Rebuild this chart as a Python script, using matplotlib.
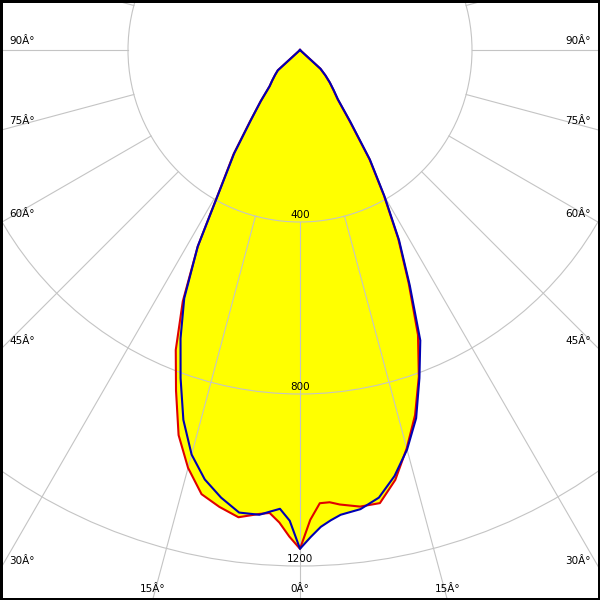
import numpy as np
import matplotlib
matplotlib.use("Agg")
import matplotlib.pyplot as plt
from matplotlib.patches import Circle

# photometric data, angle from nadir (deg) and intensity (cd)
angles = [0, 1.25, 2.5, 3.75, 5, 7.5, 10, 12.5, 15, 17.5, 20, 22.5, 25,
          27.5, 30, 32.5, 35, 37.5, 40, 42.5, 45, 47.5, 50]
red_left = [1160, 1132, 1100, 1079, 1083, 1096, 1079, 1058, 1006, 939, 843, 755, 645,
            515, 368, 288, 202, 150, 110, 95, 82, 70, 0]
red_right = [1160, 1093, 1055, 1054, 1061, 1071, 1070, 1024, 959, 890, 808, 717, 598,
             495, 390, 300, 200, 143, 120, 102, 83, 64, 0]
blue_left = [1160, 1095, 1068, 1076, 1085, 1085, 1057, 1023, 974, 902, 812, 726, 637,
             515, 366, 285, 200, 150, 110, 95, 82, 70, 0]
blue_right = [1160, 1133, 1110, 1096, 1085, 1077, 1057, 1015, 962, 898, 812, 731, 604,
              499, 393, 303, 205, 145, 122, 103, 84, 65, 0]

ring_values = [400, 800, 1200]
side_angles = [90, 75, 60, 45, 30]
bottom_angles = [-15, 0, 15]

S = 0.43          # pixels per cd
CY = 50           # pole distance from top edge, px
GRID = "#c4c4c4"


def curve_xy(left, right):
    a = np.radians(np.concatenate([-np.array(angles[::-1]), np.array(angles[1:])]))
    r = np.concatenate([np.array(left[::-1]), np.array(right[1:])])
    return r * np.sin(a), -r * np.cos(a)


fig = plt.figure(figsize=(6, 6), dpi=100)
ax = fig.add_axes([0, 0, 1, 1])
ax.set_xlim(-300 / S, 300 / S)
ax.set_ylim(-(600 - CY) / S, CY / S)
ax.set_xticks([])
ax.set_yticks([])
for sp in ax.spines.values():
    sp.set_linewidth(3.6)
    sp.set_color("black")

# yellow area (union of both planes)
for left, right in [(red_left, red_right), (blue_left, blue_right)]:
    x, y = curve_xy(left, right)
    ax.fill(x, y, color="#ffff00", lw=0, zorder=1)

# grid: rings and rays starting at the first ring
for rv in ring_values:
    ax.add_patch(Circle((0, 0), rv, fill=False, ec=GRID, lw=0.8, zorder=2))
for a in range(0, 360, 15):
    t = np.radians(a)
    ax.plot([400 * np.sin(t), 3000 * np.sin(t)], [-400 * np.cos(t), -3000 * np.cos(t)],
            color=GRID, lw=0.8, zorder=2)

# curves
x, y = curve_xy(red_left, red_right)
ax.plot(x, y, color="#e00000", lw=1.5, zorder=3)
x, y = curve_xy(blue_left, blue_right)
ax.plot(x, y, color="#0000b4", lw=1.5, zorder=3)

fs = 7.5
for rv in ring_values:
    ax.text(0, -rv + 2 / S, str(rv), ha="center", va="bottom", fontsize=fs, zorder=4)

half_w = 300 / S
for a in side_angles:
    if a == 90:
        ye = 0
    else:
        ye = -half_w / np.tan(np.radians(a))
    lab = f"{a}Â°"
    ax.text(-half_w + 9 / S, ye + 4 / S, lab, ha="left", va="bottom", fontsize=fs, zorder=4)
    ax.text(half_w - 9 / S, ye + 4 / S, lab, ha="right", va="bottom", fontsize=fs, zorder=4)

bottom = (600 - CY) / S
for a in bottom_angles:
    xe = bottom * np.tan(np.radians(a))
    ax.text(xe, -bottom + 11 / S, f"{abs(a)}Â°", ha="center", va="center", fontsize=fs, zorder=4)

fig.savefig("out.png", dpi=100)
